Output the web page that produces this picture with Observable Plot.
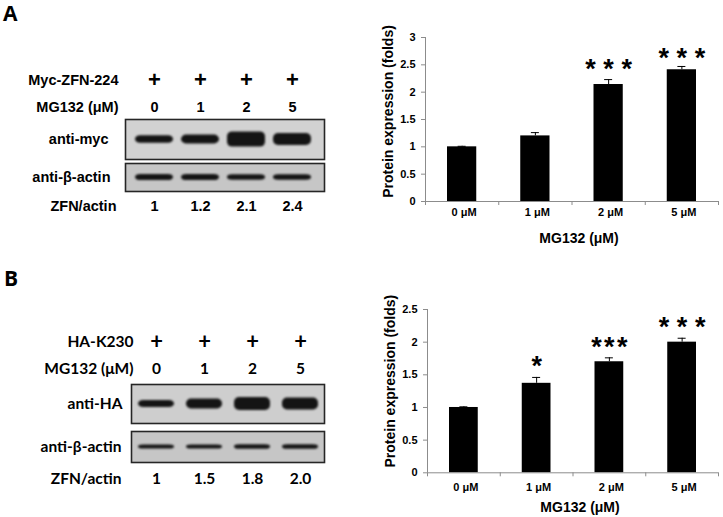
<!DOCTYPE html>
<html><head><meta charset="utf-8">
<script src="https://cdn.jsdelivr.net/npm/d3@7"></script>
<script src="https://cdn.jsdelivr.net/npm/@observablehq/plot@0.6"></script>
<style>
html,body{margin:0;padding:0;background:#fff;}
#fig{position:relative;width:723px;height:517px;overflow:hidden;}
#fig > div{position:absolute;}
#fig svg{overflow:visible;}
.letter{font-family:"Open Sans",sans-serif;font-weight:bold;font-size:21px;line-height:1.2;padding:0 2px;}
.blot g[aria-label="bar"]{filter:blur(0.9px);}
.chart g[aria-label="y-axis tick"], .chart g[aria-label="x-axis tick"]{stroke:#8c8c8c;}
</style>
</head><body><div id="fig"></div>
<script>
// ---------- data ----------
const lanes = ["0", "1", "2", "5"];               // MG132 (μM) per lane
const doseLabels = ["0 μM", "1 μM", "2 μM", "5 μM"];
// Panel A western blot
const tagA = "Myc-ZFN-224";
const ratioA = ["1", "1.2", "2.1", "2.4"];
const mycBand = [0.19, 0.22, 0.38, 0.3];          // relative band thickness
const actinBandA = [0.22, 0.22, 0.2, 0.2];
// Panel B western blot
const tagB = "HA-K230";
const ratioB = ["1", "1.5", "1.8", "2.0"];
const haBand = [0.18, 0.26, 0.33, 0.31];
const actinBandB = [0.13, 0.13, 0.15, 0.15];
// Bar chart A
const foldA = [1.0, 1.2, 2.14, 2.41];
const errA = [0.01, 0.06, 0.09, 0.06];
const starsA = ["", "", "* * *", "* * *"];
const starYA = [null, null, 2.53, 2.72];
// Bar chart B
const foldB = [1.0, 1.37, 1.70, 2.0];
const errB = [0.01, 0.09, 0.06, 0.06];
const starsB = ["", "*", "*\u200A*\u200A*", "* * *"];
const starYB = [null, 1.72, 2.01, 2.32];
const yTicksA = [0, 0.5, 1, 1.5, 2, 2.5, 3];
const yTicksB = [0, 0.5, 1, 1.5, 2, 2.5];

// ---------- helpers ----------
const fig = document.getElementById("fig");
function place(node, left, top, cls) {
  const d = document.createElement("div");
  d.style.left = left + "px"; d.style.top = top + "px";
  if (cls) d.className = cls;
  d.appendChild(node);
  fig.appendChild(d);
  return d;
}
function letter(t, left, top) {
  const s = document.createElement("span");
  s.textContent = t;
  place(s, left, top, "letter");
}

function laneX(cfg) {
  return {type: "band", domain: lanes, axis: null, paddingInner: 0, paddingOuter: cfg.po, align: cfg.al};
}

function textRows(cfg, rowDefs, height, fontSize) {
  const data = [];
  rowDefs.forEach(r => lanes.forEach((l, i) => data.push({lane: l, row: r.label, t: r.texts[i]})));
  return Plot.plot({
    width: 360, height, marginLeft: cfg.ml, marginRight: cfg.mr, marginTop: 0, marginBottom: 0,
    style: {fontFamily: cfg.font, fontWeight: "bold", color: "black"},
    x: laneX(cfg),
    y: {type: "band", domain: rowDefs.map(r => r.label), axis: null, padding: 0},
    marks: [
      ...rowDefs.map(r => Plot.text(data.filter(d => d.row === r.label),
        {x: "lane", y: "row", text: "t", fontSize: r.size, textAnchor: "middle", lineAnchor: "middle"})),
      ...rowDefs.map(r => Plot.text([r.label], {y: d => d, frameAnchor: "left", textAnchor: "end",
        lineAnchor: "middle", dx: -r.pad, fontSize: fontSize}))
    ]
  });
}

function blot(cfg, label, thick, h, bg, inset, pad) {
  const data = lanes.map((l, i) => ({lane: l, t: thick[i]}));
  return Plot.plot({
    width: 360, height: h, marginLeft: cfg.ml, marginRight: cfg.mr, marginTop: 1, marginBottom: 1,
    style: {fontFamily: cfg.font, fontWeight: "bold", color: "black"},
    x: laneX(cfg),
    y: {domain: [-1, 1], axis: null},
    marks: [
      Plot.frame({fill: bg, stroke: "#262626", strokeWidth: 1.6}),
      Plot.barY(data, {x: "lane", y1: d => -d.t, y2: d => d.t, fill: "#141414",
        insetLeft: inset, insetRight: inset, rx: 5}),
      Plot.text([label], {frameAnchor: "left", textAnchor: "end", lineAnchor: "middle", dx: -pad, fontSize: cfg.fs})
    ]
  });
}

function bars(fold, err, stars, starY, o) {
  const data = doseLabels.map((c, i) => ({i, c, v: fold[i], e: err[i], s: stars[i], sy: starY[i]}));
  return Plot.plot({
    width: 363, height: o.h, marginLeft: o.ml, marginRight: 5, marginTop: o.mt, marginBottom: o.mb,
    style: {fontFamily: "'Liberation Sans', Arial, sans-serif", fontWeight: "bold", fontSize: "11px", color: "black"},
    x: {domain: [0, 4], ticks: [0, 1, 2, 3, 4], tickFormat: () => "", tickSize: 4, label: null},
    y: {domain: [0, o.ymax], ticks: o.yticks, tickFormat: d => String(d), tickSize: 4, tickPadding: 6, label: null},
    marks: [
      Plot.rect(data, {x1: "i", x2: d => d.i + 1, y1: 0, y2: "v", fill: "black", insetLeft: 22, insetRight: 22}),
      Plot.ruleX(data, {x: d => d.i + 0.5, y1: "v", y2: d => d.v + d.e, stroke: "black", strokeWidth: 1}),
      Plot.ruleY(data, {y: d => d.v + d.e, x1: d => d.i + 0.5, x2: d => d.i + 0.5, insetLeft: -4, insetRight: -4, stroke: "black"}),
      Plot.ruleY([0], {stroke: "#8c8c8c"}),
      Plot.ruleX([0], {stroke: "#8c8c8c"}),
      Plot.text(data, {x: d => d.i + 0.5, text: "c", frameAnchor: "bottom", textAnchor: "middle", lineAnchor: "middle", dy: o.tdy, dx: 2, fontSize: 11}),
      Plot.text(data.filter(d => d.s), {x: d => d.i + 0.5, y: "sy", text: "s", fontSize: 27, textAnchor: "middle", lineAnchor: "middle", dy: 6}),
      Plot.text(["Protein expression (folds)"], {frameAnchor: "left", textAnchor: "middle", lineAnchor: "middle", rotate: -90, dx: -37, dy: o.ldy, fontSize: 14}),
      Plot.text(["MG132 (μM)"], {frameAnchor: "bottom", textAnchor: "middle", lineAnchor: "middle", dy: o.xdy, dx: 7, fontSize: 14})
    ]
  });
}

// ---------- Panel A ----------
const cfgA = {ml: 125, mr: 36, po: 0.16, al: 0.4, font: "'Liberation Sans', Arial, sans-serif", fs: 14.5};
letter("A", 1, 1);
place(textRows(cfgA, [
  {label: tagA, texts: lanes.map(() => "+"), size: 22, pad: 7},
  {label: "MG132 (μM)", texts: lanes, size: 14.5, pad: 7}
], 54, 14.5), 0, 66);
place(blot(cfgA, "anti-myc", mycBand, 42, "#d2d2d2", 4, 17), 0, 118, "blot");
place(blot(cfgA, "anti-β-actin", actinBandA, 30, "#c6c6c6", 4, 15), 0, 162, "blot");
place(textRows(cfgA, [{label: "ZFN/actin", texts: ratioA, size: 14.5, pad: 9}], 20, 14.5), 0, 196);
place(bars(foldA, errA, starsA, starYA, {h: 250, ml: 65, mt: 37, mb: 49, ymax: 3, yticks: yTicksA, tdy: 11.3, xdy: 37, ldy: -8}), 360, 0, "chart");

// ---------- Panel B ----------
const cfgB = {ml: 131, mr: 36, po: 0, al: 0.5, font: "Lato, 'Open Sans', sans-serif", fs: 15.5};
letter("B", 2, 266);
place(textRows(cfgB, [
  {label: tagB, texts: lanes.map(() => "+"), size: 22, pad: -2},
  {label: "MG132 (μM)", texts: lanes, size: 15.5, pad: -2}
], 54, 15.5), 0, 327.5);
place(blot(cfgB, "anti-HA", haBand, 41, "#cecece", 6, 9), 0, 383, "blot");
place(blot(cfgB, "anti-β-actin", actinBandB, 33, "#c6c6c6", 6, 10), 0, 430, "blot");
place(textRows(cfgB, [{label: "ZFN/actin", texts: ratioB, size: 15.5, pad: 10}], 20, 15.5), 0, 469);
place(bars(foldB, errB, starsB, starYB, {h: 257, ml: 67, mt: 49, mb: 44.7, ymax: 2.5, yticks: yTicksB, tdy: 14.4, xdy: 35, ldy: -10}), 360, 260, "chart");
</script>
</body></html>
